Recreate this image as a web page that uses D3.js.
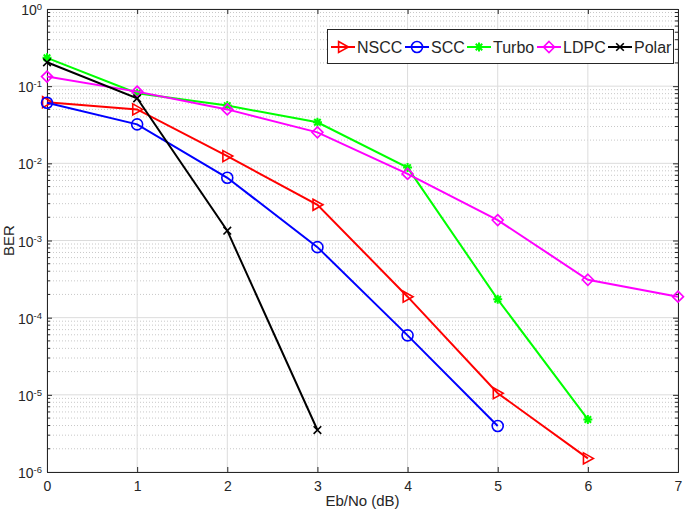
<!DOCTYPE html>
<html>
<head>
<meta charset="utf-8">
<script src="https://cdn.jsdelivr.net/npm/d3@7"></script>
<style>
  body { margin: 0; background: #fff; }
  text { font-family: "Liberation Sans", Arial, sans-serif; fill: #262626; }
</style>
</head>
<body>
<div id="chart"></div>
<script>
var svgWidth = 685;
var svgHeight = 512;

var margin = { top: 9, right: 7, bottom: 40, left: 47 };
var width = svgWidth - margin.left - margin.right;
var height = svgHeight - margin.top - margin.bottom;

// values (Eb/No in dB, BER)
var ebno = [0, 1, 2, 3, 4, 5, 6, 7];
var nscc = [0.062, 0.05, 0.0124, 0.0029, 1.87e-4, 1.05e-5, 1.5e-6];
var scc = [0.061, 0.032, 0.0065, 8.2e-4, 5.9e-5, 3.95e-6];
var turbo = [0.233, 0.081, 0.056, 0.034, 0.0088, 1.73e-4, 4.8e-6];
var ldpc = [0.133, 0.085, 0.05, 0.0252, 0.0073, 1.84e-3, 3.1e-4, 1.87e-4];
var polar = [0.204, 0.0696, 1.34e-3, 3.5e-6];

var xTicks = [0, 1, 2, 3, 4, 5, 6, 7];
var yExponents = [0, -1, -2, -3, -4, -5, -6];

var series = [
  { name: "NSCC", values: nscc, color: "#ff0000", marker: "triangle" },
  { name: "SCC", values: scc, color: "#0000ff", marker: "circle" },
  { name: "Turbo", values: turbo, color: "#00ff00", marker: "asterisk" },
  { name: "LDPC", values: ldpc, color: "#ff00ff", marker: "diamond" },
  { name: "Polar", values: polar, color: "#000000", marker: "cross" }
];

var svg = d3.select("#chart")
  .append("svg")
  .attr("width", svgWidth)
  .attr("height", svgHeight);

var chartGroup = svg.append("g")
  .attr("transform", `translate(${margin.left}, ${margin.top})`);

var xScale = d3.scaleLinear().domain([0, 7]).range([0, width]);
var yScale = d3.scaleLog().domain([1e-6, 1]).range([height, 0]);

// minor values for the log axis
var minorVals = [];
yExponents.forEach(function(e) {
  if (e === 0) return;
  for (var m = 2; m <= 9; m++) minorVals.push(m * Math.pow(10, e));
});

// grid
var grid = chartGroup.append("g");
grid.selectAll(".minor")
  .data(minorVals)
  .enter()
  .append("line")
  .attr("x1", 0).attr("x2", width)
  .attr("y1", d => yScale(d)).attr("y2", d => yScale(d))
  .attr("stroke", "#c8c8c8")
  .attr("stroke-width", 1)
  .attr("stroke-dasharray", "1,2");

grid.selectAll(".majorY")
  .data(yExponents.map(e => Math.pow(10, e)))
  .enter()
  .append("line")
  .attr("x1", 0).attr("x2", width)
  .attr("y1", d => yScale(d)).attr("y2", d => yScale(d))
  .attr("stroke", "#dcdcdc")
  .attr("stroke-width", 1);

grid.selectAll(".majorX")
  .data(xTicks)
  .enter()
  .append("line")
  .attr("x1", d => xScale(d)).attr("x2", d => xScale(d))
  .attr("y1", 0).attr("y2", height)
  .attr("stroke", "#dcdcdc")
  .attr("stroke-width", 1);

// axes with inward ticks
var bottomAxis = d3.axisBottom(xScale).tickValues(xTicks).tickSize(-5).tickPadding(9).tickFormat(d3.format("d"));
var topAxis = d3.axisTop(xScale).tickValues(xTicks).tickSize(-5).tickFormat("");
var leftAxis = d3.axisLeft(yScale).tickValues(yExponents.map(e => Math.pow(10, e))).tickSize(-5).tickFormat("");
var rightAxis = d3.axisRight(yScale).tickValues(yExponents.map(e => Math.pow(10, e))).tickSize(-5).tickFormat("");

function styleAxis(g) {
  g.select(".domain").attr("stroke", "#262626").attr("stroke-width", 1);
  g.selectAll(".tick line").attr("stroke", "#262626");
  g.selectAll(".tick text").attr("font-size", 14).attr("fill", "#262626")
    .attr("font-family", "Liberation Sans, Arial, sans-serif");
}

chartGroup.append("g").attr("transform", `translate(0, ${height})`).call(bottomAxis).call(styleAxis);
chartGroup.append("g").call(topAxis).call(styleAxis);
chartGroup.append("g").call(leftAxis).call(styleAxis);
chartGroup.append("g").attr("transform", `translate(${width}, 0)`).call(rightAxis).call(styleAxis);

// minor y ticks on both sides
chartGroup.append("g").selectAll("line")
  .data(minorVals)
  .enter()
  .append("line")
  .attr("x1", 0).attr("x2", 3)
  .attr("y1", d => yScale(d)).attr("y2", d => yScale(d))
  .attr("stroke", "#262626");
chartGroup.append("g").selectAll("line")
  .data(minorVals)
  .enter()
  .append("line")
  .attr("x1", width - 3).attr("x2", width)
  .attr("y1", d => yScale(d)).attr("y2", d => yScale(d))
  .attr("stroke", "#262626");

// y tick labels as 10^n
var yLab = chartGroup.append("g").selectAll("text")
  .data(yExponents)
  .enter()
  .append("text")
  .attr("x", -5)
  .attr("y", d => yScale(Math.pow(10, d)) + 6)
  .attr("text-anchor", "end")
  .attr("font-size", 14);
yLab.append("tspan").text("10");
yLab.append("tspan").attr("dy", -5).attr("font-size", 9.5).text(d => d);

// lines and markers
var line = d3.line()
  .x((d, i) => xScale(ebno[i]))
  .y(d => yScale(d));

function markerPath(type) {
  var r = 5.5;
  if (type === "triangle") return `M${-r * 0.8},${-r}L${r},0L${-r * 0.8},${r}Z`;
  if (type === "diamond") return `M0,${-r}L${r},0L0,${r}L${-r},0Z`;
  if (type === "cross") { var c = 3.8; return `M${-c},${-c}L${c},${c}M${-c},${c}L${c},${-c}`; }
  if (type === "asterisk") {
    var a = 4.5, b = a * 0.72;
    return `M${-a},0L${a},0M0,${-a}L0,${a}M${-b},${-b}L${b},${b}M${-b},${b}L${b},${-b}`;
  }
  return d3.symbol(d3.symbolCircle, Math.PI * r * r)();
}

series.forEach(function(s) {
  var g = chartGroup.append("g");
  g.append("path")
    .datum(s.values)
    .attr("d", line)
    .attr("fill", "none")
    .attr("stroke", s.color)
    .attr("stroke-width", 2);

  g.selectAll("path.mk")
    .data(s.values)
    .enter()
    .append("path")
    .attr("class", "mk")
    .attr("transform", (d, i) => `translate(${xScale(ebno[i])}, ${yScale(d)})`)
    .attr("d", markerPath(s.marker))
    .attr("fill", "none")
    .attr("stroke", s.color)
    .attr("stroke-width", s.marker === "asterisk" ? 2 : 1.6);
});

// legend
var legendX = [331, 405, 467, 537, 608];
var legend = svg.append("g");
legend.append("rect")
  .attr("x", 327.5).attr("y", 29.5)
  .attr("width", 346).attr("height", 34)
  .attr("fill", "#fff")
  .attr("stroke", "#262626")
  .attr("stroke-width", 1);

series.forEach(function(s, i) {
  var lg = legend.append("g").attr("transform", `translate(${legendX[i]}, 47)`);
  lg.append("line")
    .attr("x1", 0).attr("x2", 24)
    .attr("stroke", s.color).attr("stroke-width", 2);
  lg.append("path")
    .attr("transform", "translate(12,0)")
    .attr("d", markerPath(s.marker))
    .attr("fill", "none")
    .attr("stroke", s.color)
    .attr("stroke-width", s.marker === "asterisk" ? 2 : 1.6);
  lg.append("text")
    .attr("x", 26)
    .attr("y", 6)
    .attr("font-size", 16)
    .attr("fill", "#000")
    .text(s.name);
});

// labels
chartGroup.append("text")
  .attr("transform", "rotate(-90)")
  .attr("x", -height / 2)
  .attr("y", -33)
  .attr("text-anchor", "middle")
  .attr("font-size", 15)
  .text("BER");

chartGroup.append("text")
  .attr("x", width / 2)
  .attr("y", height + 34)
  .attr("text-anchor", "middle")
  .attr("font-size", 15)
  .text("Eb/No (dB)");
</script>
</body>
</html>
